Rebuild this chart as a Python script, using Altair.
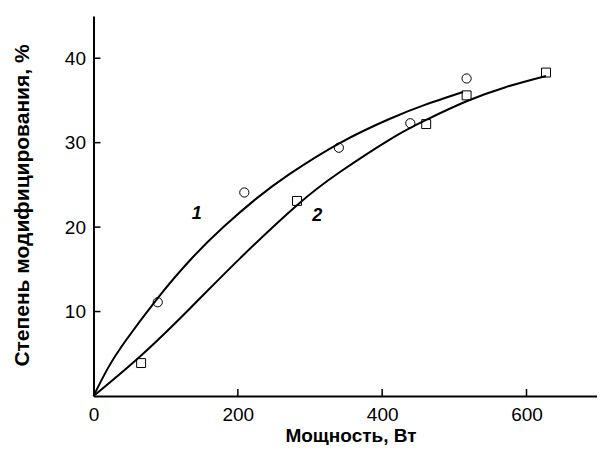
import altair as alt
import pandas as pd

# ---- data ----
x_tick_values = [0, 200, 400, 600]
x_inner_ticks = [200, 400, 600]
y_tick_values = [10, 20, 30, 40]

curve1_x = [0, 20, 45, 89, 135, 180, 226, 272, 340, 410, 460, 512]
curve1_y = [0, 3.3, 6.6, 11.6, 16.2, 20.0, 23.4, 26.3, 29.9, 32.8, 34.5, 36.0]
curve2_x = [0, 66, 134, 203, 282, 341, 411, 461, 517, 572, 627]
curve2_y = [0, 4.8, 10.4, 16.3, 22.6, 26.5, 30.4, 32.7, 34.9, 36.6, 37.9]

circle_x = [89, 209, 340, 439, 517]
circle_y = [11.1, 24.1, 29.4, 32.3, 37.6]
square_x = [66, 282, 461, 517, 627]
square_y = [3.9, 23.1, 32.2, 35.6, 38.3]

label_text = ["1", "2"]
label_x = [143, 310]
label_y = [21.5, 21.3]

x_title = "Мощность, Вт"
y_title = "Степень модифицирования, %"

# ---- layout ----
W, H = 503, 380
FONT = "Liberation Sans"
TICK = 7

xs = alt.Scale(domain=[0, 697], nice=False, zero=False)
ys = alt.Scale(domain=[0, 45], nice=False, zero=False)

x_axis = alt.Axis(values=x_tick_values, title=x_title, titleX=257, titleY=45,
                  titleBaseline="alphabetic", titleAlign="center", titleFontSize=19,
                  labelPadding=9, labelFlush=False)
y_axis = alt.Axis(values=y_tick_values, title=y_title, titleX=-65, titleY=189,
                  titleAngle=270, titleBaseline="alphabetic", titleAlign="center",
                  titleFontSize=21, labelPadding=8)

X = alt.X("x:Q", scale=xs, axis=x_axis)
Y = alt.Y("y:Q", scale=ys, axis=y_axis)

curves = pd.DataFrame({
    "x": curve1_x + curve2_x,
    "y": curve1_y + curve2_y,
    "c": ["1"] * len(curve1_x) + ["2"] * len(curve2_x),
})
circles = pd.DataFrame({"x": circle_x, "y": circle_y})
squares = pd.DataFrame({"x": square_x, "y": square_y})
labels = pd.DataFrame({"x": label_x, "y": label_y, "t": label_text})
xt = pd.DataFrame({"x": x_inner_ticks})
yt = pd.DataFrame({"y": y_tick_values})

lines = alt.Chart(curves).mark_line(color="black", strokeWidth=2, interpolate="natural").encode(
    x=X, y=Y, detail="c:N")
pts1 = alt.Chart(circles).mark_point(shape="circle", filled=False, color="black",
                                      size=85, strokeWidth=1, opacity=1).encode(x=X, y=Y)
pts2 = alt.Chart(squares).mark_point(shape="square", filled=False, color="black",
                                      size=80, strokeWidth=1, opacity=1).encode(x=X, y=Y)
txt = alt.Chart(labels).mark_text(font=FONT, fontSize=18, fontWeight="bold",
                                   fontStyle="italic", color="black",
                                   align="center", baseline="middle").encode(x=X, y=Y, text="t:N")
xticks = alt.Chart(xt).mark_rule(color="black", strokeWidth=1.5).encode(
    x=X, y=alt.value(H), y2=alt.value(H - TICK))
yticks = alt.Chart(yt).mark_rule(color="black", strokeWidth=1.5).encode(
    y=Y, x=alt.value(0), x2=alt.value(TICK))

chart = alt.layer(lines, pts1, pts2, txt, xticks, yticks).properties(
    width=W, height=H,
    padding={"left": 85.5, "top": 8, "right": 0, "bottom": 49},
    autosize=alt.AutoSizeParams(type="none"),
).configure_view(stroke="transparent").configure_axis(
    grid=False, ticks=False, tickSize=0,
    domainColor="black", domainWidth=2,
    labelFont=FONT, labelFontSize=19, labelColor="black",
    titleFont=FONT, titleFontWeight="bold", titleColor="black",
)

chart.save("out.html", embed_options={"renderer": "svg", "actions": False})
